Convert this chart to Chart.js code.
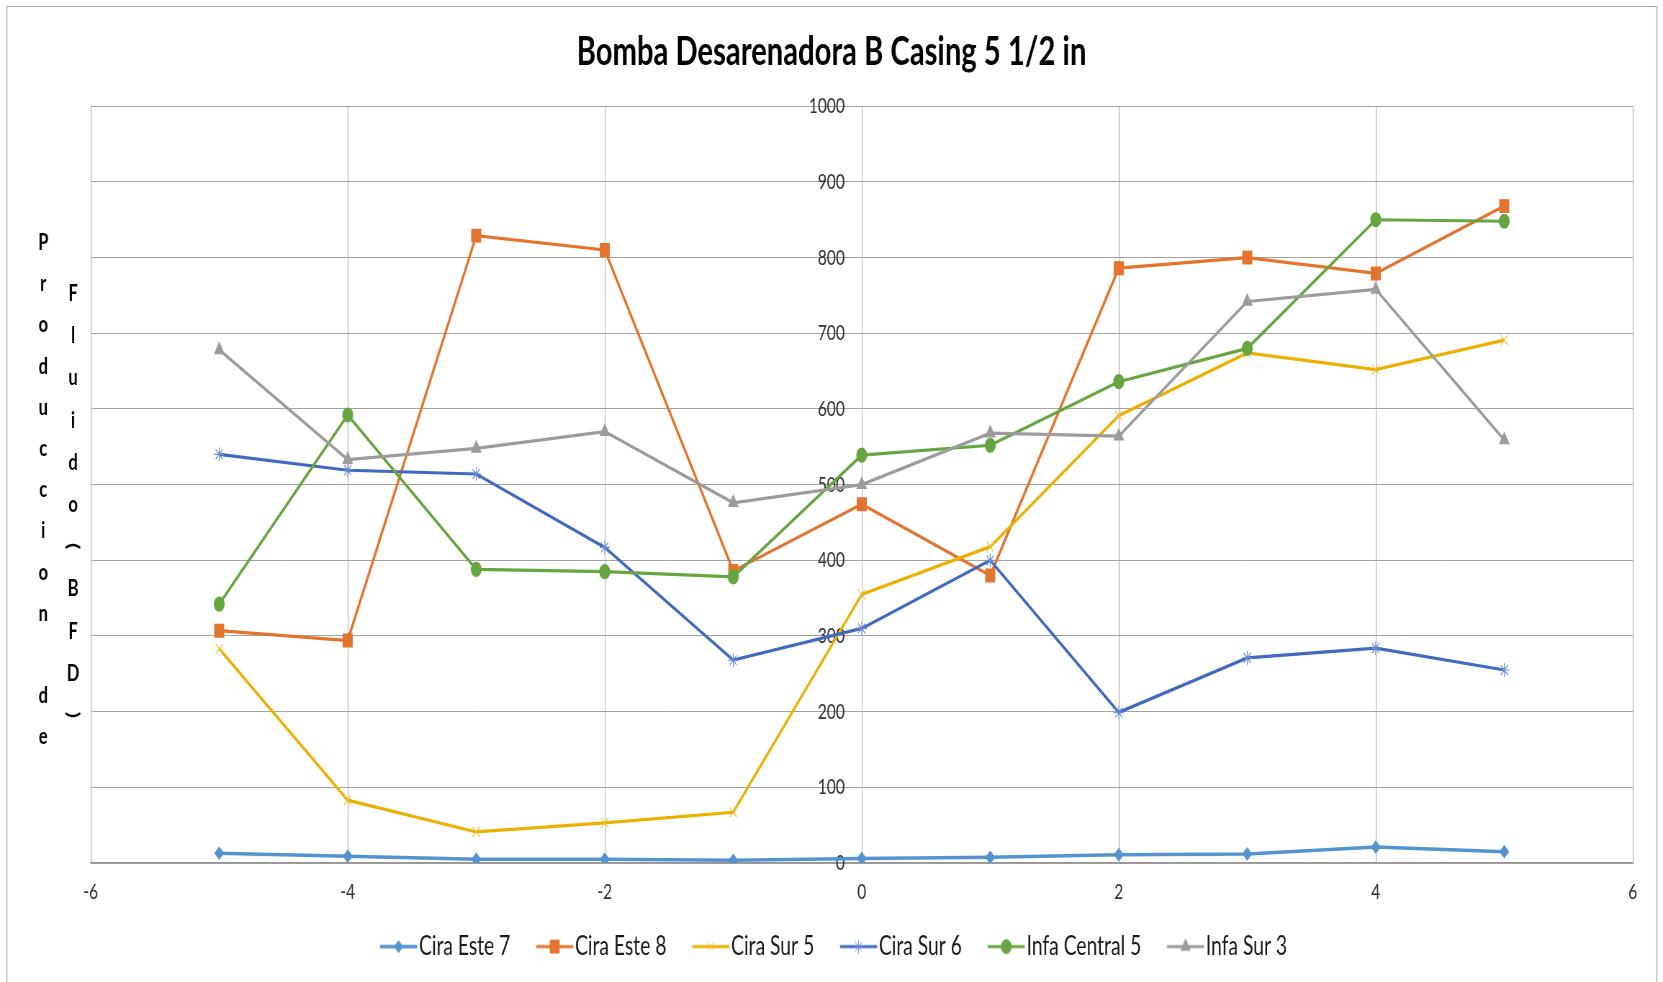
<!DOCTYPE html>
<html>
<head>
<meta charset="utf-8">
<script src="https://cdn.jsdelivr.net/npm/chart.js@4.4.1/dist/chart.umd.min.js"></script>
<style>
html,body{margin:0;padding:0;background:#fff;overflow:hidden}
canvas{display:block}
</style>
</head>
<body>
<canvas id="c" width="2310" height="982" style="width:1663px;height:982px"></canvas>
<script>
// ---- data ----
const chartTitle = 'Bomba Desarenadora B Casing 5 1/2 in';
const yTitleColumns = ['Produccion de', 'Fluido(BFD)'];
const xValues = [-5, -4, -3, -2, -1, 0, 1, 2, 3, 4, 5];
const seriesNames = ['Cira Este 7', 'Cira Este 8', 'Cira Sur 5', 'Cira Sur 6', 'Infa Central 5', 'Infa Sur 3'];
const ciraEste7    = [13, 9, 5, 5, 3.5, 6, 7.5, 11, 12, 21, 15];
const ciraEste8    = [307, 294, 829, 810, 386, 474, 380, 786, 800, 779, 868];
const ciraSur5     = [283, 83, 41, 53, 67, 355, 418, 591, 674, 652, 691];
const ciraSur6     = [540, 519, 514, 417, 268, 310, 400, 199, 271, 284, 255];
const infaCentral5 = [342, 592, 388, 385, 378, 539, 552, 636, 680, 850, 848];
const infaSur3     = [678, 533, 548, 570, 476, 500, 568, 564, 742, 758, 559];
const xTicks = [-6, -4, -2, 0, 2, 4, 6];
const yTicks = [0, 100, 200, 300, 400, 500, 600, 700, 800, 900, 1000];

// ---- styles ----
const seriesValues = [ciraEste7, ciraEste8, ciraSur5, ciraSur6, infaCentral5, infaSur3];
const seriesStyles = [
  {color: '#5593CF', marker: '#5593CF', pointStyle: 'rectRot', radius: 6, lineWidth: 3.5},
  {color: '#E4732D', marker: '#E4732D', pointStyle: 'rect', radius: 9, lineWidth: 3.2},
  {color: '#EBB000', marker: '#F2C23A', pointStyle: 'crossRot', radius: 7, lineWidth: 3.2},
  {color: '#4169BD', marker: '#6A8BD6', pointStyle: 'star', radius: 7, lineWidth: 3.2},
  {color: '#66A53F', marker: '#66A53F', pointStyle: 'circle', radius: 7, lineWidth: 3.2},
  {color: '#9C9C9C', marker: '#9C9C9C', pointStyle: 'triangle', radius: 7.5, lineWidth: 3.2}
];

Chart.defaults.font.family = 'Lato';

function makeLegendIcon(st) {
  const c = document.createElement('canvas');
  c.width = 70; c.height = 26;
  const g = c.getContext('2d');
  g.strokeStyle = st.color; g.lineWidth = st.lineWidth;
  g.beginPath(); g.moveTo(17.6, 13); g.lineTo(69.2, 13); g.stroke();
  g.fillStyle = st.marker; g.strokeStyle = st.marker; g.lineWidth = 1;
  Chart.helpers.drawPoint(g, {pointStyle: st.pointStyle, radius: st.radius, rotation: 0, borderWidth: 1.2}, 43.4, 13);
  return c;
}
const legendIcons = seriesStyles.map(makeLegendIcon);

const datasets = seriesNames.map((name, i) => {
  const st = seriesStyles[i];
  return {
    label: name,
    data: xValues.map((x, k) => ({x: x, y: seriesValues[i][k]})),
    borderColor: st.color,
    backgroundColor: st.marker,
    borderWidth: st.lineWidth,
    pointStyle: st.pointStyle,
    pointRadius: st.radius,
    pointBorderColor: st.marker,
    pointBackgroundColor: st.marker,
    pointBorderWidth: 1.2,
    tension: 0,
    order: seriesNames.length - 1 - i
  };
});

const framePlugin = {
  id: 'frame',
  beforeDraw(chart) {
    const ctx = chart.ctx;
    ctx.save();
    ctx.fillStyle = '#ffffff';
    ctx.fillRect(0, 0, chart.width, chart.height);
    ctx.strokeStyle = '#a6a6a6';
    ctx.lineWidth = 1;
    ctx.beginPath(); ctx.moveTo(9, 6.5); ctx.lineTo(2302, 6.5); ctx.stroke();
    ctx.lineWidth = 1.4;
    ctx.beginPath(); ctx.moveTo(9.5, 6); ctx.lineTo(9.5, chart.height + 2); ctx.stroke();
    ctx.beginPath(); ctx.moveTo(2301.5, 6); ctx.lineTo(2301.5, chart.height + 2); ctx.stroke();
    ctx.restore();
    // keep the y tick labels a little to the left of the y axis line
    const ys = chart.scales.y;
    const items = ys.getLabelItems(chart.chartArea);
    if (!items._shifted) {
      items.forEach(it => { it.options.translation[0] -= 23.6; });
      items._shifted = true;
    }
  }
};

const yTitlePlugin = {
  id: 'yTitle',
  afterDraw(chart) {
    const ctx = chart.ctx;
    ctx.save();
    ctx.fillStyle = '#000000';
    ctx.font = 'bold 23px Lato';
    ctx.textAlign = 'center';
    ctx.textBaseline = 'alphabetic';
    const cols = [{x: 60, y0: 250, pitch: 41.2}, {x: 101.5, y0: 301, pitch: 42.2}];
    yTitleColumns.forEach((txt, ci) => {
      const col = cols[ci];
      Array.from(txt).forEach((ch, k) => {
        if (ch === ' ') return;
        const y = col.y0 + k * col.pitch;
        if (ch === '(' || ch === ')') {
          ctx.save();
          ctx.translate(col.x, y - 8);
          ctx.rotate(Math.PI / 2);
          ctx.textBaseline = 'middle';
          ctx.fillText(ch, 0, 0);
          ctx.restore();
        } else {
          ctx.fillText(ch, col.x, y);
        }
      });
    });
    ctx.restore();
  }
};

new Chart(document.getElementById('c'), {
  type: 'line',
  data: {datasets: datasets},
  options: {
    responsive: false,
    devicePixelRatio: 1,
    animation: false,
    layout: {padding: {left: 42, right: 42, top: 0, bottom: 12}},
    scales: {
      x: {
        type: 'linear', min: -6, max: 6,
        afterBuildTicks: s => { s.ticks = xTicks.map(v => ({value: v})); },
        afterFit: s => { s.height = 40.2; },
        grid: {color: '#a2a2a2', lineWidth: 1, drawTicks: false},
        border: {display: true, color: '#969696', width: 1.5},
        ticks: {padding: 16.1, color: '#303030', font: {size: 21.5}, maxRotation: 0, autoSkip: false,
                callback: v => String(v)}
      },
      y: {
        type: 'linear', min: 0, max: 1000, position: {x: 0},
        afterBuildTicks: s => { s.ticks = yTicks.map(v => ({value: v})); },
        grid: {color: '#a2a2a2', lineWidth: 1, drawTicks: false},
        border: {display: true, color: '#b4b4b4', width: 1},
        ticks: {padding: 0, color: '#303030', font: {size: 21.5}, callback: v => String(v)}
      },
      yPad: {
        type: 'linear', position: 'left', display: true,
        grid: {display: false}, border: {display: false}, ticks: {display: false},
        afterFit: s => { s.width = 84; }
      }
    },
    plugins: {
      title: {
        display: true, text: chartTitle, color: '#000000',
        font: {family: 'Lato', size: 40.6, weight: 'bold'},
        padding: {top: 27.5, bottom: 30}
      },
      legend: {
        display: true, position: 'bottom',
        labels: {
          usePointStyle: true, pointStyleWidth: 46.4,
          padding: 30, color: '#1a1a1a', font: {size: 26.8},
          sort: (a, b) => a.datasetIndex - b.datasetIndex,
          generateLabels: chart => {
            const items = Chart.defaults.plugins.legend.labels.generateLabels(chart);
            items.forEach(it => { it.pointStyle = legendIcons[it.datasetIndex]; });
            return items;
          }
        }
      },
      tooltip: {enabled: false}
    }
  },
  plugins: [framePlugin, yTitlePlugin]
});
</script>
</body>
</html>
